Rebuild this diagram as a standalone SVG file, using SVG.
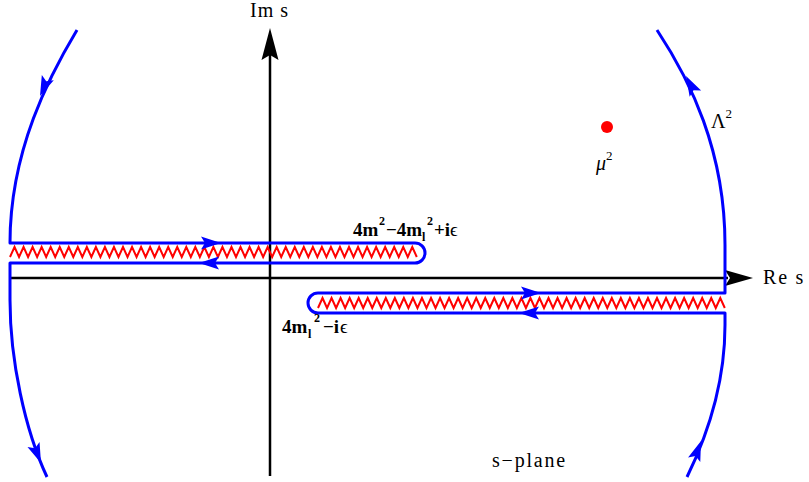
<svg xmlns="http://www.w3.org/2000/svg" xmlns:xlink="http://www.w3.org/1999/xlink" width="809" height="482" viewBox="0 0 809 482">
<style>
.ax{stroke:#000;stroke-width:2.5;fill:none}
.ct{stroke:#0000ff;stroke-width:3;fill:none;stroke-linejoin:round}
.zz{stroke:#ff0000;stroke-width:2;fill:none;stroke-linejoin:miter}
.ah{fill:#0000ff}
.t{font-family:"Liberation Serif","Times New Roman",serif;fill:#000}
.lb{font-family:"Liberation Serif","Times New Roman",serif;font-weight:bold;fill:#000;font-size:19px}
.sm{font-size:12px}
</style>
<defs>
<path id="arr" d="M0,0 L-20,-6.5 L-16,0 L-20,6.5 Z"/>
<path id="zig" d="M0,5 l4.52,-10 4.52,10 4.52,-10 4.52,10 4.52,-10 4.52,10 4.52,-10 4.52,10 4.52,-10 4.52,10
 4.52,-10 4.52,10 4.52,-10 4.52,10 4.52,-10 4.52,10 4.52,-10 4.52,10 4.52,-10 4.52,10
 4.52,-10 4.52,10 4.52,-10 4.52,10 4.52,-10 4.52,10 4.52,-10 4.52,10 4.52,-10 4.52,10
 4.52,-10 4.52,10 4.52,-10 4.52,10 4.52,-10 4.52,10 4.52,-10 4.52,10 4.52,-10 4.52,10
 4.52,-10 4.52,10 4.52,-10 4.52,10 4.52,-10 4.52,10 4.52,-10 4.52,10 4.52,-10 4.52,10
 4.52,-10 4.52,10 4.52,-10 4.52,10 4.52,-10 4.52,10 4.52,-10 4.52,10 4.52,-10 4.52,10
 4.52,-10 4.52,10 4.52,-10 4.52,10 4.52,-10 4.52,10 4.52,-10 4.52,10 4.52,-10 4.52,10
 4.52,-10 4.52,10 4.52,-10 4.52,10 4.52,-10 4.52,10 4.52,-10 4.52,10 4.52,-10 4.52,10
 4.52,-10 4.52,10 4.52,-10 4.52,10 4.52,-10 4.52,10 4.52,-10 4.52,10 4.52,-10 4.52,10"/>
</defs>
<rect width="809" height="482" fill="#fff"/>

<g id="axes">
<line class="ax" x1="10" y1="278" x2="728" y2="278"/>
<path d="M753,278 L725,270 L730,278 L725,286 Z" fill="#000"/>
<line class="ax" x1="270" y1="476" x2="270" y2="54"/>
<path d="M270,28 L278.5,60 L270,55 L261.5,60 Z" fill="#000"/>
</g>

<g id="cut-upper">
<use xlink:href="#zig" href="#zig" class="zz" transform="translate(10,252)"/>
</g>
<g id="cut-lower">
<use xlink:href="#zig" href="#zig" class="zz" transform="translate(318,303)"/>
</g>

<g id="point-mu">
<circle cx="607" cy="127" r="6" fill="#ff0000"/>
</g>

<g id="connectors">
<path class="ct" d="M77,30 C50,75 10,150 10,243 L415,243 A10,10 0 0 1 415,263 L10,263 L10,300 C10,360 25,430 47,477"/>
<path class="ct" d="M657,30 C690,80 725,150 725,245 L725,293 L318,293 A10,10 0 0 0 318,313 L725,313 L725,325 C725,380 710,430 687,477"/>
<use xlink:href="#arr" href="#arr" class="ah" transform="translate(221,243)"/>
<use xlink:href="#arr" href="#arr" class="ah" transform="translate(199,263) rotate(180)"/>
<use xlink:href="#arr" href="#arr" class="ah" transform="translate(541,293)"/>
<use xlink:href="#arr" href="#arr" class="ah" transform="translate(519,313) rotate(180)"/>
<use xlink:href="#arr" href="#arr" class="ah" transform="translate(40,96) rotate(113)"/>
<use xlink:href="#arr" href="#arr" class="ah" transform="translate(41,463) rotate(68)"/>
<use xlink:href="#arr" href="#arr" class="ah" transform="translate(686,76) rotate(-118)"/>
<use xlink:href="#arr" href="#arr" class="ah" transform="translate(701,441) rotate(-70)"/>
</g>

<g id="labels">
<text class="t" x="250" y="17" font-size="20" letter-spacing="1">Im s</text>
<text class="t" x="763" y="284" font-size="20" letter-spacing="1.8">Re s</text>
<text class="lb" y="236"><tspan x="353">4m</tspan><tspan class="sm" x="379" y="225">2</tspan><tspan x="386" y="236">−4m</tspan><tspan class="sm" x="422" y="241">l</tspan><tspan class="sm" x="427" y="225">2</tspan><tspan x="434" y="236">+i</tspan><tspan font-weight="normal">ϵ</tspan></text>
<text class="lb" y="333"><tspan x="282">4m</tspan><tspan class="sm" x="308" y="338">l</tspan><tspan class="sm" x="314" y="322">2</tspan><tspan x="323" y="333">−i</tspan><tspan font-weight="normal" dx="1">ϵ</tspan></text>
<text class="t" x="596" y="170" font-size="20" font-style="italic">μ<tspan font-style="normal" font-size="13" dy="-10">2</tspan></text>
<text class="t" x="711" y="128" font-size="20">Λ<tspan font-size="13" dy="-10">2</tspan></text>
<text class="t" x="492" y="467" font-size="20" letter-spacing="1.8">s−plane</text>
</g>
</svg>
